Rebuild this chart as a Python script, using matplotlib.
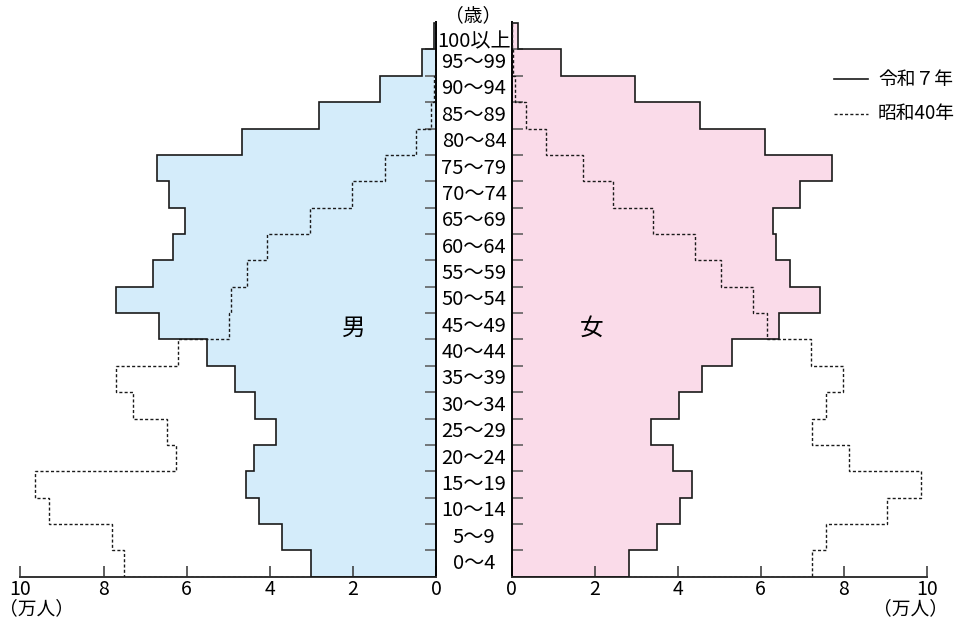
import numpy as np
import matplotlib
matplotlib.use("Agg")
import matplotlib.pyplot as plt
from matplotlib.transforms import blended_transform_factory

plt.rcParams['font.family'] = ['Noto Sans CJK JP', 'DejaVu Sans']

# age groups, bottom to top
ages = ["0～4", "5～9", "10～14", "15～19", "20～24", "25～29", "30～34",
        "35～39", "40～44", "45～49", "50～54", "55～59", "60～64", "65～69",
        "70～74", "75～79", "80～84", "85～89", "90～94", "95～99", "100以上"]

# population, 万人
male_r7 = [3.02, 3.71, 4.25, 4.57, 4.37, 3.84, 4.35, 4.84, 5.50, 6.66, 7.69,
           6.81, 6.32, 6.04, 6.43, 6.71, 4.66, 2.82, 1.35, 0.34, 0.06]
female_r7 = [2.82, 3.51, 4.06, 4.35, 3.88, 3.35, 4.03, 4.59, 5.32, 6.44, 7.44,
             6.71, 6.38, 6.30, 6.94, 7.73, 6.11, 4.54, 2.96, 1.20, 0.15]
male_s40 = [7.50, 7.79, 9.31, 9.64, 6.25, 6.48, 7.30, 7.69, 6.20, 4.99, 4.93,
            4.56, 4.07, 3.04, 2.03, 1.23, 0.47, 0.13, 0.04, 0.0, 0.0]
female_s40 = [7.24, 7.57, 9.04, 9.86, 8.13, 7.23, 7.57, 7.98, 7.21, 6.16, 5.81,
              5.05, 4.41, 3.40, 2.44, 1.71, 0.83, 0.34, 0.08, 0.02, 0.0]

xticks = [0, 2, 4, 6, 8, 10]

edges = np.arange(len(ages) + 1)
blue = "#d4ecfa"
pink = "#fadbe9"
dotted = (0, (2.2, 1.6))

W, H = 958, 619
fig = plt.figure(figsize=(W / 100, H / 100), dpi=100)
y0 = (H - 576.7) / H
hh = (576.7 - 22.3) / H
axL = fig.add_axes([20.5 / W, y0, 415.5 / W, hh])
axR = fig.add_axes([511.7 / W, y0, 415 / W, hh])

for ax, r7, s40, col in [(axL, male_r7, male_s40, blue),
                         (axR, female_r7, female_s40, pink)]:
    ax.stairs(r7, edges, orientation="horizontal", baseline=0, fill=True,
              facecolor=col, edgecolor="none", zorder=1)
    ax.stairs(r7, edges, orientation="horizontal", baseline=0, fill=False,
              color="#1a1a1a", lw=1.2, zorder=3)
    ax.stairs(s40, edges, orientation="horizontal", baseline=0, fill=False,
              color="#1a1a1a", lw=1.0, linestyle=dotted, zorder=4)
    ax.set_ylim(0, 21.03)
    ax.set_xticks(xticks)
    ax.set_xticklabels([str(v) for v in xticks], fontsize=14)
    ax.tick_params(axis="x", direction="in", length=8, width=1.1,
                   color="#333333", pad=2)
    ax.set_yticks(edges[1:-1])
    ax.set_yticklabels([])
    ax.tick_params(axis="y", direction="in", length=8, width=1.1,
                   color="#555555")
    ax.spines["top"].set_visible(False)
    ax.spines["bottom"].set_linewidth(1.4)
    ax.spines["bottom"].set_color("#333333")
    ax.set_facecolor("none")

axL.set_xlim(10, 0)
axL.spines["left"].set_visible(False)
axL.spines["right"].set_linewidth(1.4)
axL.yaxis.tick_right()
axR.set_xlim(0, 10)
axR.spines["right"].set_visible(False)
axR.spines["left"].set_linewidth(1.4)

# age labels between the two halves (top one nudged down under the unit label)
tr = blended_transform_factory(fig.transFigure, axL.transData)
for i, lab in enumerate(ages):
    yy = i + 0.5 - (0.2 if i == len(ages) - 1 else 0)
    fig.text(474 / W, yy, lab, transform=tr, ha="center", va="center",
             fontsize=14.5)
fig.text(473 / W, 1 - 16 / H, "（歳）", ha="center", va="center", fontsize=13.5)

fig.text(36 / W, 1 - 609 / H, "（万人）", ha="center", va="center", fontsize=13.5)
fig.text(910 / W, 1 - 609 / H, "（万人）", ha="center", va="center", fontsize=13.5)

fig.text(354 / W, 1 - 328 / H, "男", ha="center", va="center", fontsize=17)
fig.text(592 / W, 1 - 328 / H, "女", ha="center", va="center", fontsize=17)

# legend
fig.add_artist(plt.Line2D([834 / W, 868 / W], [1 - 79 / H, 1 - 79 / H],
                          color="#1a1a1a", lw=1.2))
fig.add_artist(plt.Line2D([834 / W, 868 / W], [1 - 114 / H, 1 - 114 / H],
                          color="#1a1a1a", lw=1.0, linestyle=dotted))
fig.text(878 / W, 1 - 79 / H, "令和７年", ha="left", va="center", fontsize=13.5)
fig.text(878 / W, 1 - 114 / H, "昭和40年", ha="left", va="center", fontsize=13.5)

fig.savefig("out.png", dpi=100)
